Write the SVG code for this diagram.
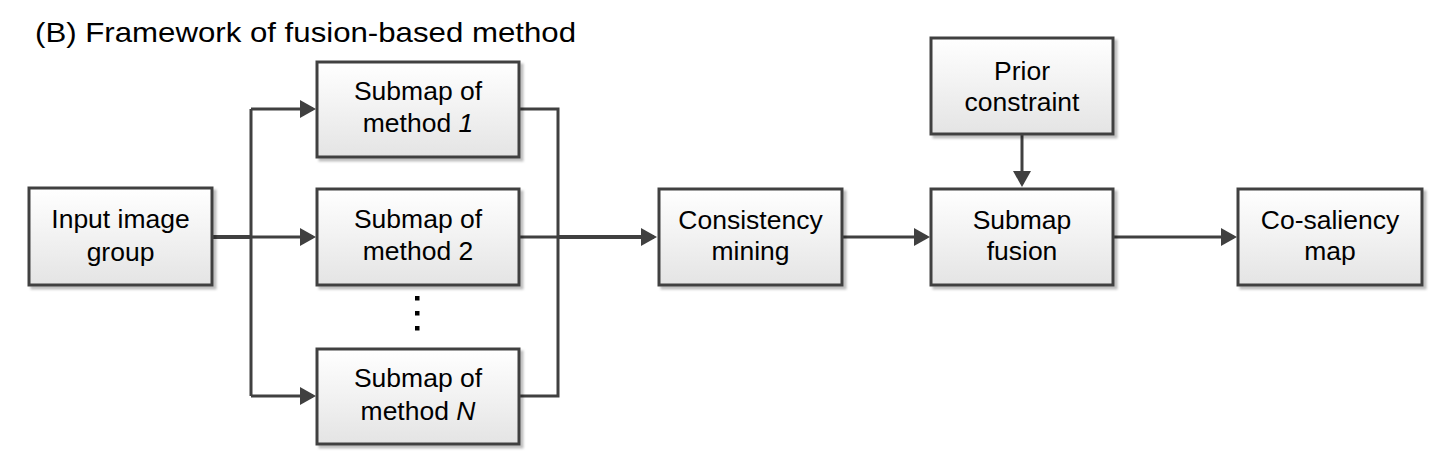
<svg xmlns="http://www.w3.org/2000/svg" width="1445" height="468" viewBox="0 0 1445 468">
<style>
.box{fill:url(#g);stroke:#404040;stroke-width:3;filter:url(#sh)}
.t{font-family:"Liberation Sans",Arial,sans-serif;font-size:25px;fill:#000;text-anchor:middle}
.c{fill:none;stroke:#404040;stroke-width:3}
.a{marker-end:url(#ah)}
</style>
<defs>
<linearGradient id="g" x1="0" y1="0" x2="0" y2="1">
<stop offset="0" stop-color="#ffffff"/>
<stop offset="1" stop-color="#e4e4e4"/>
</linearGradient>
<filter id="sh" x="-10%" y="-10%" width="125%" height="130%">
<feDropShadow dx="3" dy="3" stdDeviation="1.2" flood-color="#000" flood-opacity="0.25"/>
</filter>
<marker id="ah" markerUnits="userSpaceOnUse" markerWidth="17" markerHeight="18" refX="13" refY="9" orient="auto">
<path d="M0,0 L16,9 L0,18 Z" fill="#404040"/>
</marker>
</defs>
<rect width="1445" height="468" fill="#fff"/>
<text x="35" y="42" font-family="Liberation Sans, Arial, sans-serif" font-size="28" textLength="541" lengthAdjust="spacingAndGlyphs" fill="#000">(B) Framework of fusion-based method</text>
<g id="connectors">
<path class="c" d="M212,237 H251" style="stroke-width:4"/>
<path class="c" d="M251,109 V396"/>
<path class="c a" d="M251,109 H313"/>
<path class="c a" d="M251,237 H313"/>
<path class="c a" d="M251,396 H313"/>
<path class="c" d="M519,109 H558 V396 H519"/>
<path class="c" d="M519,237 H558"/>
<path class="c a" d="M558,237 H654" style="stroke-width:4"/>
<path class="c a" d="M842,237 H927"/>
<path class="c a" d="M1022,134 V184"/>
<path class="c a" d="M1113,237 H1234"/>
</g>
<g id="input">
<rect class="box" x="29" y="188" width="183" height="97"/>
<text class="t" transform="translate(120.5,0) scale(1.06,1)" x="0" y="228">Input image</text>
<text class="t" transform="translate(120.5,0) scale(1.06,1)" x="0" y="261">group</text>
</g>
<g id="sub1">
<rect class="box" x="317" y="62" width="202" height="95"/>
<text class="t" transform="translate(418,0) scale(1.06,1)" x="0" y="100">Submap of</text>
<text class="t" transform="translate(418,0) scale(1.06,1)" x="0" y="132">method <tspan font-style="italic">1</tspan></text>
</g>
<g id="sub2">
<rect class="box" x="317" y="189" width="202" height="96"/>
<text class="t" transform="translate(418,0) scale(1.06,1)" x="0" y="228">Submap of</text>
<text class="t" transform="translate(418,0) scale(1.06,1)" x="0" y="260">method 2</text>
</g>
<g id="dots">
<rect x="415" y="296" width="4.5" height="4.5" fill="#000"/>
<rect x="415" y="311" width="4.5" height="4.5" fill="#000"/>
<rect x="415" y="326" width="4.5" height="4.5" fill="#000"/>
</g>
<g id="subN">
<rect class="box" x="317" y="349" width="202" height="95"/>
<text class="t" transform="translate(418,0) scale(1.06,1)" x="0" y="387">Submap of</text>
<text class="t" transform="translate(418,0) scale(1.06,1)" x="0" y="420">method <tspan font-style="italic">N</tspan></text>
</g>
<g id="consistency">
<rect class="box" x="659" y="189" width="183" height="96"/>
<text class="t" transform="translate(750.5,0) scale(1.06,1)" x="0" y="229">Consistency</text>
<text class="t" transform="translate(750.5,0) scale(1.06,1)" x="0" y="260">mining</text>
</g>
<g id="prior">
<rect class="box" x="931" y="38" width="182" height="96"/>
<text class="t" transform="translate(1022,0) scale(1.06,1)" x="0" y="80">Prior</text>
<text class="t" transform="translate(1022,0) scale(1.06,1)" x="0" y="111">constraint</text>
</g>
<g id="fusion">
<rect class="box" x="931" y="189" width="182" height="96"/>
<text class="t" transform="translate(1022,0) scale(1.06,1)" x="0" y="229">Submap</text>
<text class="t" transform="translate(1022,0) scale(1.06,1)" x="0" y="260">fusion</text>
</g>
<g id="cosaliency">
<rect class="box" x="1238" y="189" width="184" height="96"/>
<text class="t" transform="translate(1330,0) scale(1.06,1)" x="0" y="229">Co-saliency</text>
<text class="t" transform="translate(1330,0) scale(1.06,1)" x="0" y="260">map</text>
</g>
</svg>
